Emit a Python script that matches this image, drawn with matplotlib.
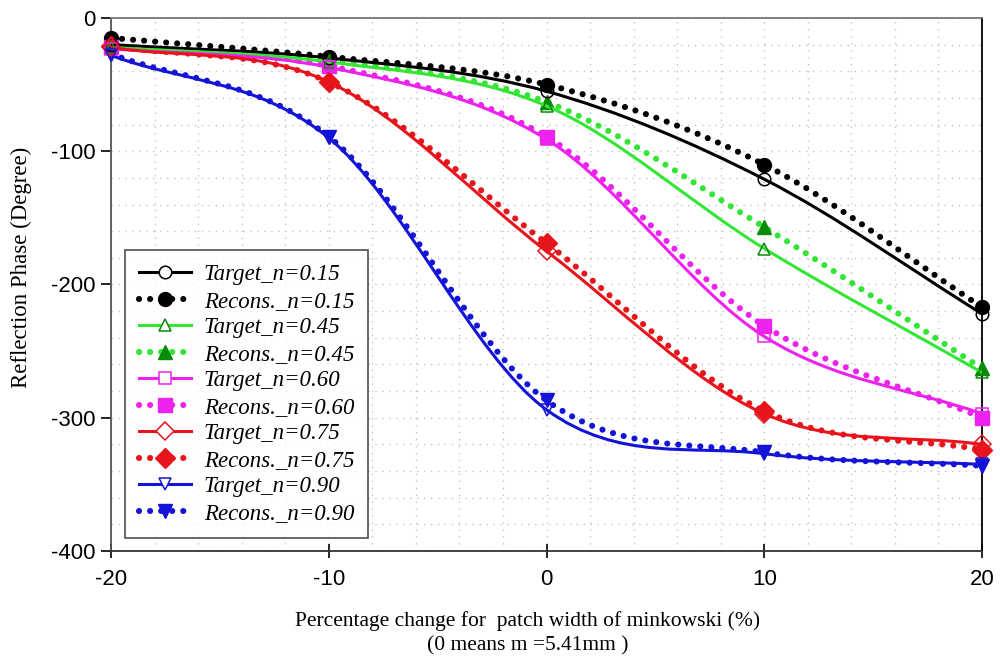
import numpy as np
import matplotlib
matplotlib.use("Agg")
import matplotlib.pyplot as plt
from matplotlib.path import Path
from matplotlib.patches import PathPatch
from matplotlib.lines import Line2D
from matplotlib.ticker import MultipleLocator

# patch width change (%) and reflection phase (degree) per index n
x_change = [-20, -10, 0, 10, 20]
n_labels = ["0.15", "0.45", "0.60", "0.75", "0.90"]

target_015 = [-20, -30, -55, -121, -222]
recons_015 = [-15, -29, -50, -110, -217]
target_045 = [-22, -33, -66, -173, -266]
recons_045 = [-21, -32, -63, -157, -263]
target_060 = [-23, -37, -91, -239, -297]
recons_060 = [-22, -36, -89, -231, -300]
target_075 = [-22, -48, -175, -297, -320]
recons_075 = [-21, -48, -169, -295, -324]
target_090 = [-28, -90, -294, -327, -335]
recons_090 = [-27, -89, -287, -326, -336]

targets = [target_015, target_045, target_060, target_075, target_090]
recons = [recons_015, recons_045, recons_060, recons_075, recons_090]

line_colors = ["black", "#33e633", "#ee22ee", "#e8141c", "#1414d8"]
marker_colors = ["black", "#0a8a0a", "#ee22ee", "#e8141c", "#1414d8"]
markers = ["o", "^", "s", "D", "v"]


def smooth_path(xs, ys):
    # bezier path through the points, like a spreadsheet "smoothed line"
    pts = np.column_stack([xs, ys]).astype(float)
    n = len(pts)
    tang = np.zeros_like(pts)
    for i in range(n):
        if i == 0:
            tang[i] = pts[1] - pts[0]
        elif i == n - 1:
            tang[i] = pts[-1] - pts[-2]
        else:
            tang[i] = (pts[i + 1] - pts[i - 1]) / 2
    verts = [pts[0]]
    codes = [Path.MOVETO]
    for i in range(n - 1):
        verts += [pts[i] + tang[i] / 3, pts[i + 1] - tang[i + 1] / 3, pts[i + 1]]
        codes += [Path.CURVE4] * 3
    return Path(verts, codes)


plt.rcParams["font.family"] = ["Liberation Sans", "DejaVu Sans"]
plt.rcParams["axes.unicode_minus"] = False
fig = plt.figure(figsize=(10, 6.59), dpi=100)
ax = fig.add_axes([0.111, 0.1639, 0.871, 0.8088])

dot_lw = 4.4
dot_style = (0, (0.01, 1.8))
handles = []
labels = []
for k in range(len(n_labels)):
    lc = line_colors[k]
    mc = marker_colors[k]
    # reconstructed: dotted
    ax.add_patch(PathPatch(smooth_path(x_change, recons[k]), fill=False,
                           edgecolor=lc, linewidth=dot_lw, linestyle=dot_style,
                           capstyle="round", zorder=3))
    ax.plot(x_change, recons[k], linestyle="none", marker=markers[k],
            markersize=10, color=mc, markeredgecolor=mc, zorder=4, clip_on=False)
    # target: solid
    ax.add_patch(PathPatch(smooth_path(x_change, targets[k]), fill=False,
                           edgecolor=lc, linewidth=2.2, zorder=5))
    ax.plot(x_change, targets[k], linestyle="none", marker=markers[k],
            markersize=9, markerfacecolor="none", markeredgecolor=mc,
            markeredgewidth=1.1, zorder=6, clip_on=False)

    handles.append(Line2D([], [], color=lc, linewidth=2.2, marker=markers[k],
                          markersize=9, markerfacecolor="white",
                          markeredgecolor=mc, markeredgewidth=1.1))
    labels.append("Target_n=" + n_labels[k])
    handles.append(Line2D([], [], color=lc, linewidth=dot_lw, linestyle=dot_style,
                          dash_capstyle="round", marker=markers[k],
                          markersize=10, markerfacecolor=mc, markeredgecolor=mc))
    labels.append("Recons._n=" + n_labels[k])

ax.set_xlim(-20, 20)
ax.set_ylim(-400, 0)
ax.xaxis.set_major_locator(MultipleLocator(10))
ax.xaxis.set_minor_locator(MultipleLocator(2))
ax.yaxis.set_major_locator(MultipleLocator(100))
ax.yaxis.set_minor_locator(MultipleLocator(20))
ax.grid(which="both", linestyle=(0, (1, 4)), color="#c4c4c4", linewidth=1.0)
ax.set_axisbelow(True)
ax.tick_params(which="minor", length=0)
ax.tick_params(axis="x", which="major", direction="inout", length=10,
               labelsize=16, pad=8, width=1.2)
ax.tick_params(axis="y", which="major", direction="out", length=7,
               labelsize=16, pad=4, width=1.2)
for side in ["left", "bottom", "top", "right"]:
    ax.spines[side].set_linewidth(1.3)
ax.spines["left"].set_color("#555555")
ax.spines["bottom"].set_color("#333333")
ax.spines["top"].set_color("#777777")
ax.spines["right"].set_color("black")

ax.set_ylabel("Reflection Phase (Degree)", family="Liberation Serif",
              fontsize=16.5, labelpad=14)
ax.yaxis.label.set_y(0.533)
ax.set_xlabel("Percentage change for  patch width of minkowski (%)\n(0 means m =5.41mm )",
              family="Liberation Serif", fontsize=15.5, labelpad=15,
              linespacing=1.35)
ax.xaxis.label.set_x(0.478)

leg = ax.legend(handles, labels, loc="lower left", bbox_to_anchor=(0.016, 0.025),
                prop={"family": "Liberation Serif", "style": "italic", "size": 16.5},
                frameon=True, fancybox=False, edgecolor="#222222",
                handlelength=2.3, handletextpad=0.55, labelspacing=0.24,
                borderpad=0.6, borderaxespad=0)
leg.get_frame().set_linewidth(1.2)
leg.set_zorder(10)

fig.savefig("out.png", dpi=100)
